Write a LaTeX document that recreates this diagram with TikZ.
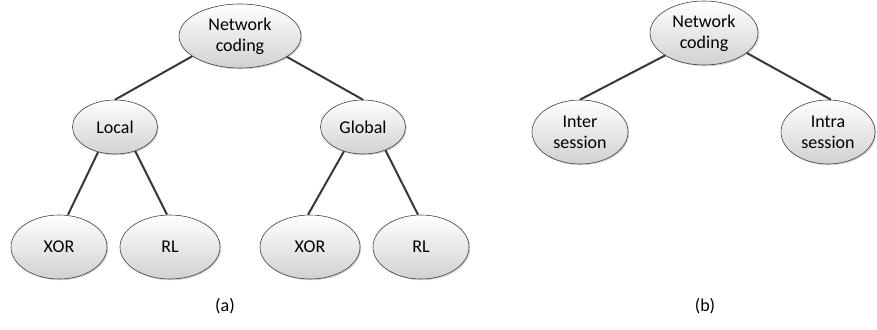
\documentclass[tikz,border=0pt]{standalone}
\usepackage{fontspec}
\setmainfont{Carlito}
\usetikzlibrary{shapes.geometric,shadows}
\tikzset{
  ell/.style={ellipse, draw=black!75, line width=0.6pt, top color=white, bottom color=black!18,
    minimum width=#1, align=center, font=\fontsize{18}{21}\selectfont, inner sep=0pt,
    drop shadow={shadow xshift=1.2pt, shadow yshift=-1.2pt, fill=black!35, opacity=0.5}},
  ell/.default=96pt,
  edge/.style={draw=black!78, line width=2pt},
  caplabel/.style={font=\fontsize{18}{21}\selectfont}
}
\begin{document}
\begin{tikzpicture}[x=1pt,y=-1pt]
\useasboundingbox (0,0) rectangle (877,329);
\node[ell=122pt, minimum height=64pt] (nc) at (240,36) {Network\\coding};
\node[ell=85pt, minimum height=54pt] (loc) at (115,127) {Local};
\node[ell=85pt, minimum height=54pt] (glo) at (363,127) {Global};
\node[ell=96pt, minimum height=64pt] (x1) at (59,247) {XOR};
\node[ell=100pt, minimum height=64pt] (r1) at (170,247) {RL};
\node[ell=100pt, minimum height=64pt] (x2) at (310,247) {XOR};
\node[ell=96pt, minimum height=64pt] (r2) at (421,247) {RL};
\node[caplabel] (la) at (225,306) {(a)};
\node[ell=108pt, minimum height=64pt] (nc2) at (704,33) {Network\\coding};
\node[ell=96pt, minimum height=64pt] (inter) at (580,132) {Inter\\session};
\node[ell=94pt, minimum height=64pt] (intra) at (828,132) {Intra\\session};
\node[caplabel] (lb) at (705,306) {(b)};
\draw[edge] (nc.203) -- (loc.north);
\draw[edge] (nc.336) -- (glo.north);
\draw[edge] (loc.236) -- ([xshift=9pt]x1.north);
\draw[edge] (loc.310) -- ([xshift=-3pt]r1.north);
\draw[edge] (glo.232) -- ([xshift=-2pt]x2.north);
\draw[edge] (glo.314) -- ([xshift=-3pt]r2.north);
\draw[edge] (nc2.210) -- (inter.north);
\draw[edge] (nc2.335) -- ([xshift=3pt]intra.north);
\end{tikzpicture}
\end{document}
